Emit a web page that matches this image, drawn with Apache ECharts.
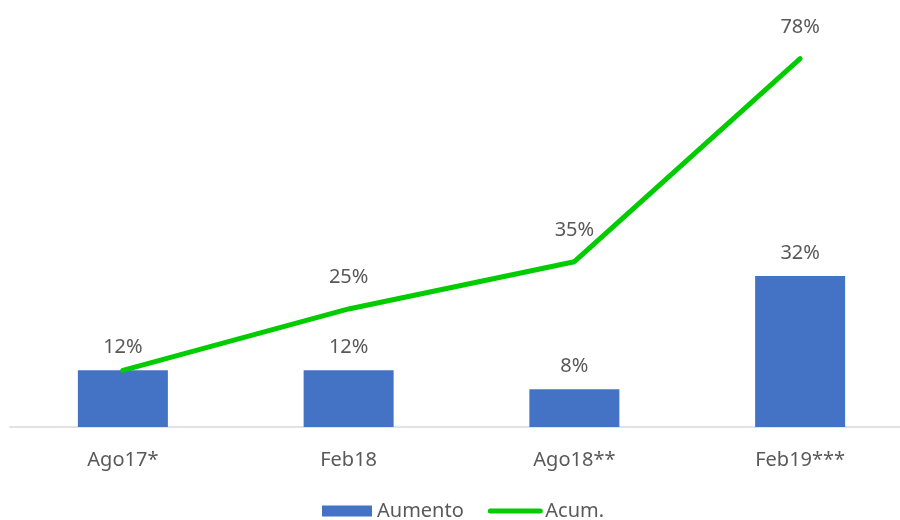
<!DOCTYPE html>
<html>
<head>
<meta charset="utf-8">
<script src="https://cdn.jsdelivr.net/npm/echarts@6/dist/echarts.min.js"></script>
<style>
  html, body { margin: 0; padding: 0; background: #fff; overflow: hidden; }
  #chart { width: 913px; height: 520px; }
</style>
</head>
<body>
<div id="chart"></div>
<script>
// categorias y valores (en %)
var categorias = ['Ago17*', 'Feb18', 'Ago18**', 'Feb19***'];
var aumento = [12, 12, 8, 32];
var acum = [12, 25, 35, 78];

var fuente = 'Noto Sans';
var gris = '#595959';
var verde = '#00CC00';

var chart = echarts.init(document.getElementById('chart'));

// primer punto de la linea sin etiqueta (coincide con la barra)
var acumData = acum.map(function (v, i) {
  return i === 0 ? { value: v, label: { show: false } } : v;
});

var option = {
  animation: false,
  textStyle: { fontFamily: fuente },
  grid: { left: 10, top: 2, right: 0, bottom: 93, containLabel: false },
  legend: {
    bottom: -6,
    left: 317,
    itemWidth: 50,
    itemHeight: 11,
    itemGap: 24,
    textStyle: { fontFamily: fuente, fontSize: 20, color: gris, padding: [0, 0, 0, 0] },
    data: [
      { name: 'Aumento', icon: 'rect' },
      { name: 'Acum.', itemStyle: { opacity: 0 }, lineStyle: { width: 5, cap: 'round' } }
    ]
  },
  xAxis: {
    type: 'category',
    data: categorias,
    axisLine: { lineStyle: { color: '#d9d9d9', width: 1.5 } },
    axisTick: { show: false },
    axisLabel: { color: gris, fontSize: 20, fontFamily: fuente, margin: 23 }
  },
  yAxis: {
    type: 'value',
    min: 0,
    max: 90,
    show: false,
    splitLine: { show: false }
  },
  series: [
    {
      name: 'Aumento',
      type: 'bar',
      data: aumento,
      barWidth: 90,
      itemStyle: { color: '#4472C4' },
      label: {
        show: true,
        position: 'top',
        distance: 13,
        formatter: '{c}%',
        color: gris,
        fontSize: 20,
        fontFamily: fuente
      }
    },
    {
      name: 'Acum.',
      type: 'line',
      data: acumData,
      symbol: 'circle',
      symbolSize: 1,
      lineStyle: { color: verde, width: 5, cap: 'round', join: 'round' },
      itemStyle: { color: verde },
      label: {
        show: true,
        position: 'top',
        distance: 21,
        formatter: '{c}%',
        color: gris,
        fontSize: 20,
        fontFamily: fuente
      }
    }
  ]
};

chart.setOption(option);
</script>
</body>
</html>
